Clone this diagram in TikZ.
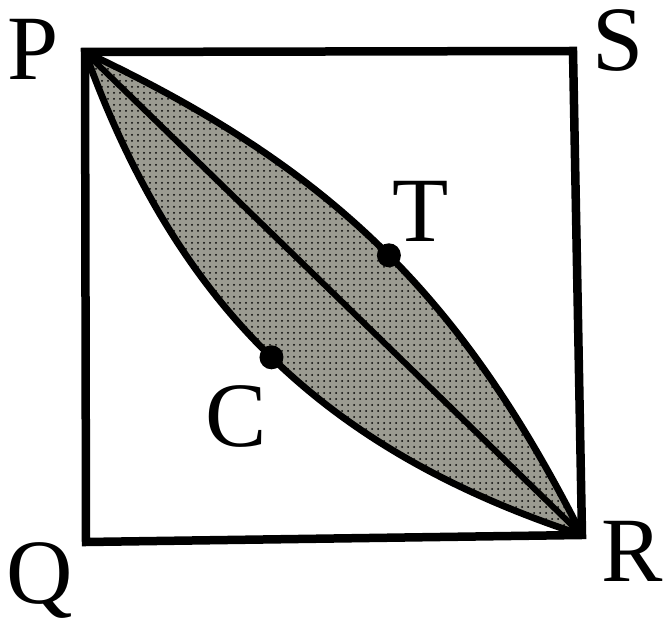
\documentclass[tikz,border=0pt]{standalone}
\usepackage{fontspec}
\setmainfont{LiberationSerif}[Extension=.ttf, UprightFont=*-Regular, BoldFont=*-Bold]
\usetikzlibrary{positioning,patterns}

\begin{document}
\begin{tikzpicture}[
    x=0.5pt, y=0.5pt,
    side/.style={draw, line width=4.25pt, line join=miter},
    edge/.style={draw, line width=3.4pt},
    diag/.style={draw, line width=3pt},
    shade/.style={fill={rgb,255:red,155;green,155;blue,145}, postaction={pattern=dots, pattern color=black}},
    dot/.style={circle, fill=black, inner sep=0pt, minimum size=12pt},
    lbl/.style={anchor=base, inner sep=0pt, font=\fontsize{46}{46}\selectfont}
]
\useasboundingbox (0,0) rectangle (664,621);

%% ---- Corners ----
\coordinate (P) at (85,569);
\coordinate (S) at (573,570);
\coordinate (R) at (582,86);
\coordinate (Q) at (86,79);

%% ---- Lens ----
\fill[shade] (P) to[bend left=19] (R) to[bend left=26] (P);
\draw[edge] (P) to[bend left=19] node[dot, pos=0.52] (T) {} (R);
\draw[edge] (P) to[bend right=26] node[dot, pos=0.5] (C) {} (R);
\draw[diag] (P) -- (R);

%% ---- Square ----
\draw[side] (P) -- (S) -- (R) -- (Q) -- cycle;

%% ---- Labels ----
\node[lbl] (labP) at (33,541) {P};
\node[lbl] (labS) at (618,550) {S};
\node[lbl] (labQ) at (40,18) {Q};
\node[lbl] (labR) at (632,39) {R};
\node[lbl] (labT) at (421,379) {T};
\node[lbl] (labC) at (236,174) {C};

\end{tikzpicture}
\end{document}
